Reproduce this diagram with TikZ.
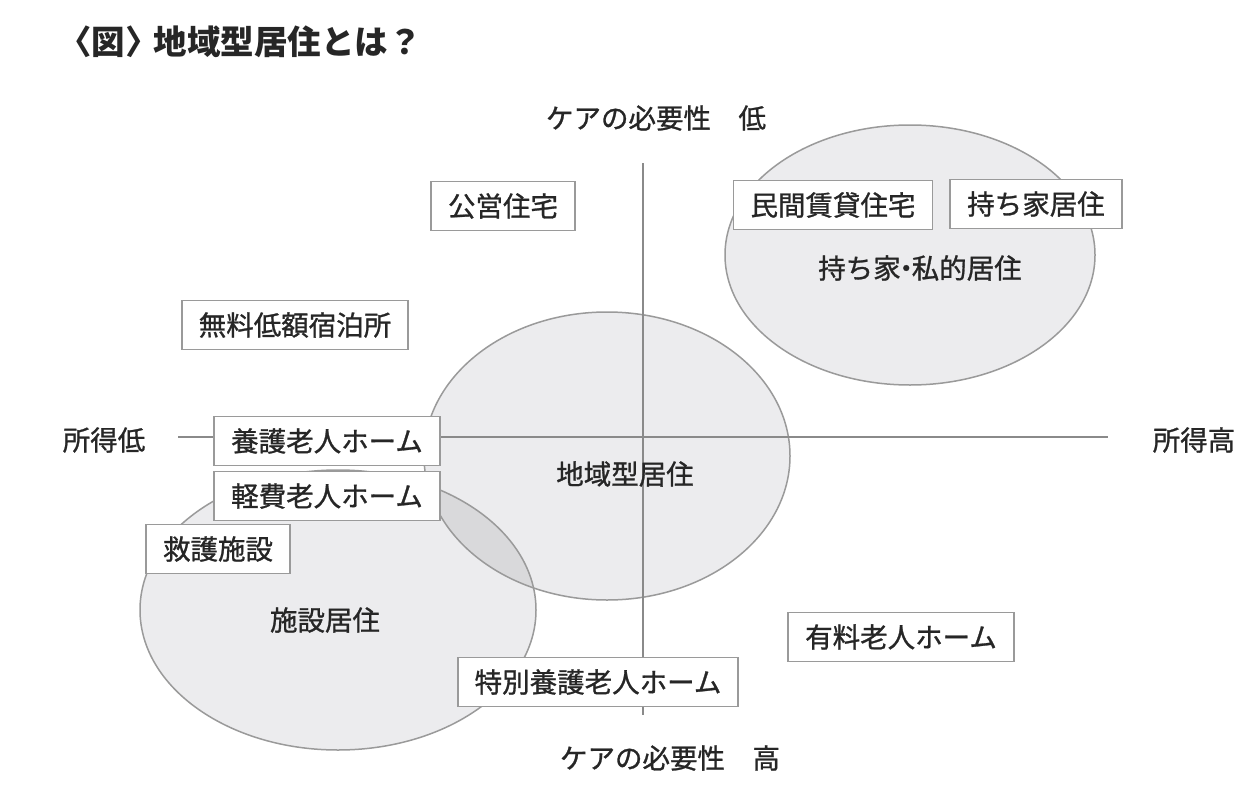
\documentclass[tikz,border=0pt]{standalone}
\usepackage{fontspec}
\setmainfont{Noto Sans CJK JP}
\newfontfamily\medfont{Noto Sans CJK JP}[FakeBold=1.0]
\begin{document}
\begin{tikzpicture}[x=1pt,y=-1pt,
  areaedge/.style={draw=edgegray,line width=1.5pt},
  axis/.style={draw=axisgray,line width=2.8pt},
  box/.style={draw=edgegray,line width=1.8pt,fill=white,font=\medfont\fontsize{27.5}{32}\selectfont,text=textgray,inner xsep=17pt,minimum height=49pt},
  lbl/.style={font=\medfont\fontsize{27.5}{32}\selectfont,text=textgray,inner sep=0pt},
]
\definecolor{areagray}{HTML}{ECECEE}
\definecolor{overgray}{HTML}{D9D9DB}
\definecolor{edgegray}{HTML}{9A9A9A}
\definecolor{axisgray}{HTML}{8A8A8A}
\definecolor{textgray}{HTML}{262626}
\useasboundingbox (0,0) rectangle (1255,787);
\fill[white] (0,0) rectangle (1255,787);
% title
\node[anchor=west,inner sep=0pt,font=\bfseries\fontsize{33.5}{40}\selectfont,text=textgray] (title) at (58,42) {〈図〉\kern-0.15em地域型居住とは？};
% ellipse fills
\fill[areagray] (910,255) ellipse [x radius=185,y radius=130];
\fill[areagray] (607,456) ellipse [x radius=183,y radius=144];
\fill[areagray] (338,610) ellipse [x radius=198,y radius=140];
\begin{scope}
  \clip (607,456) ellipse [x radius=183,y radius=144];
  \fill[overgray] (338,610) ellipse [x radius=198,y radius=140];
\end{scope}
\draw[areaedge] (910,255) ellipse [x radius=185,y radius=130];
\draw[areaedge] (607,456) ellipse [x radius=183,y radius=144];
\draw[areaedge] (338,610) ellipse [x radius=198,y radius=140];
% axes
\coordinate (vtop) at (643,163);
\coordinate (vbot) at (643,715);
\coordinate (hl) at (178,437);
\coordinate (hr) at (1108,437);
\draw[axis] (vtop) -- (vbot);
\draw[axis] (hl) -- (hr);
% axis labels
\node[lbl] (lowcare) at (656,118) {ケアの必要性　低};
\node[lbl] (highcare) at (670,758) {ケアの必要性　高};
\node[lbl] (lowinc) at (104,440) {所得低};
\node[lbl] (highinc) at (1194,440) {所得高};
% area labels
\node[lbl] (own) at (920,268) {持ち家\kern-0.3em・\kern-0.3em私的居住};
\node[lbl] (local) at (625,474) {地域型居住};
\node[lbl] (inst) at (325,620) {施設居住};
% boxes
\node[box] (b1) at (503,206) {公営住宅};
\node[box] (b2) at (295,325) {無料低額宿泊所};
\node[box] (b3) at (833,205) {民間賃貸住宅};
\node[box] (b4) at (1036,204) {持ち家居住};
\node[box] (b5) at (327,441) {養護老人ホーム};
\node[box] (b6) at (327,496) {軽費老人ホーム};
\node[box] (b7) at (218,549) {救護施設};
\node[box] (b8) at (901,637) {有料老人ホーム};
\node[box] (b9) at (598,682) {特別養護老人ホーム};
\end{tikzpicture}
\end{document}
